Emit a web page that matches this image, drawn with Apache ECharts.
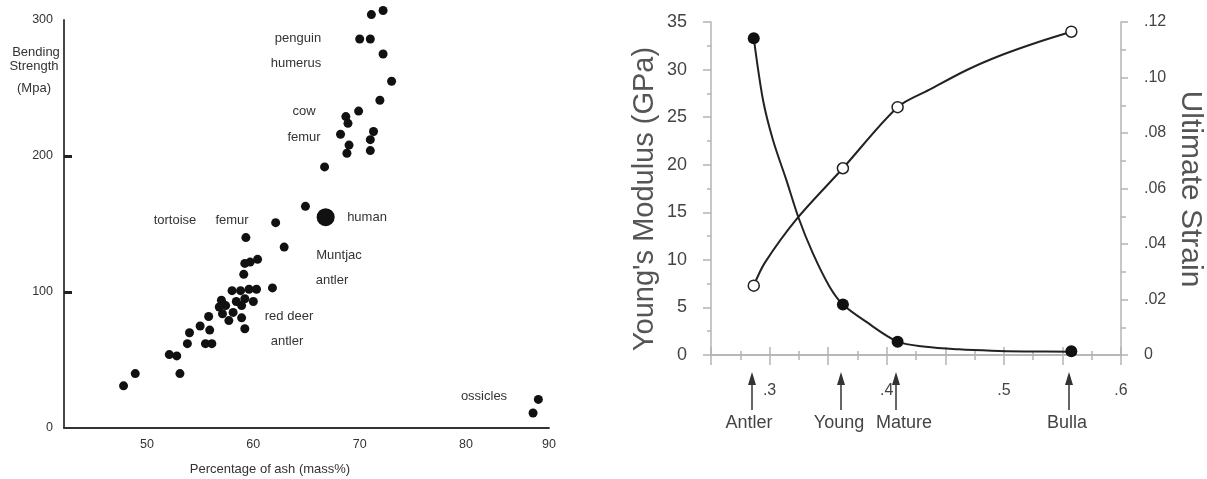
<!DOCTYPE html>
<html>
<head>
<meta charset="utf-8">
<script src="https://cdn.jsdelivr.net/npm/echarts@6/dist/echarts.min.js"></script>
<style>
  html, body { margin: 0; background: #fff; }
  #chart { width: 1207px; height: 479px; }
</style>
</head>
<body>
<div id="chart"></div>
<script>
// left panel: bending strength vs ash content
const ashPct = [72.2, 71.1, 70.0, 71.0, 72.2, 73.0, 71.9, 69.9, 68.7, 68.9, 68.2, 71.3, 71.0, 69.0, 68.8, 71.0,
  66.7, 64.9, 62.1, 59.3, 62.9, 60.4, 59.7, 59.2, 59.1, 61.8, 60.3, 59.6, 58.0, 58.8, 59.2, 60.0, 58.4, 57.0,
  57.4, 56.8, 58.9, 57.1, 58.1, 57.7, 58.9, 59.2, 55.8, 55.0, 55.9, 54.0, 53.8, 55.5, 56.1, 52.1, 52.8, 53.1,
  48.9, 47.8, 86.8, 86.3]
const bendStrength = [307, 304, 286, 286, 275, 255, 241, 233, 229, 224, 216, 218, 212, 208, 202, 204,
  192, 163, 151, 140, 133, 124, 122, 121, 113, 103, 102, 102, 101, 101, 95, 93, 93, 94,
  90, 89, 90, 84, 85, 79, 81, 73, 82, 75, 72, 70, 62, 62, 62, 54, 53, 40,
  40, 31, 21, 11]
const humanAsh = [66.8]
const humanStrength = [155]
const ashLabels = [50, 60, 70, 80, 87.8] // last label sits at the axis end and reads 90

// right panel: modulus / strain vs mineral fraction
const specimens = ['Antler', 'Young', 'Mature', 'Bulla']
const mineral = [0.2865, 0.3626, 0.4093, 0.5576]
const modulus = [33.3, 5.3, 1.4, 0.4]
const strain = [0.025, 0.0673, 0.0893, 0.1165]
// points
const modCurveX = [0.2865, 0.2944, 0.3029, 0.3143, 0.3248, 0.3369, 0.3511, 0.3626, 0.3823, 0.4093, 0.4333, 0.4616, 0.4896, 0.5182, 0.5576]
const modCurveY = [33.3, 26.8, 22.6, 18.4, 14.4, 10.7, 7.2, 5.3, 3.5, 1.4, 0.87, 0.6, 0.45, 0.38, 0.35]
const strainCurveX = [0.2865, 0.2959, 0.3239, 0.3626, 0.4093, 0.4361, 0.4684, 0.4981, 0.5295, 0.5576]
const strainCurveY = [0.025, 0.0332, 0.0494, 0.0673, 0.0893, 0.0955, 0.1027, 0.1081, 0.1128, 0.1165]

const FONT = 'Liberation Sans, Arial, sans-serif'
const zip = (a, b) => a.map((v, i) => [v, b[i]])
const grayLine = { color: '#b4b4b4', width: 1.5 }

const chart = echarts.init(document.getElementById('chart'))

chart.setOption({
  animation: false,
  textStyle: { fontFamily: FONT },
  grid: [
    { left: 64, top: 20, width: 485, height: 408 },
    { left: 711, top: 22, width: 410, height: 333 }
  ],
  xAxis: [
    {
      gridIndex: 0, type: 'value', min: 42.2, max: 87.8,
      axisLine: { lineStyle: { color: '#333', width: 1.8 } },
      axisTick: { show: false },
      splitLine: { show: false },
      axisLabel: {
        customValues: ashLabels, color: '#333', fontSize: 12.5, margin: 10,
        formatter: v => v > 85 ? '90' : String(v)
      }
    },
    {
      gridIndex: 1, type: 'value', min: 0.25, max: 0.6, interval: 0.05, position: 'bottom',
      axisLine: { lineStyle: grayLine },
      axisTick: { length: 10, lineStyle: grayLine },
      minorTick: { show: true, splitNumber: 2, length: 5, lineStyle: grayLine },
      splitLine: { show: false },
      axisLabel: {
        color: '#444', fontSize: 16, margin: 28, showMinLabel: true, showMaxLabel: true,
        formatter: v => { const h = Math.round(v * 1000); return h % 100 === 0 ? '.' + (h / 100) : '' }
      }
    },
    {
      gridIndex: 1, type: 'value', min: 0.25, max: 0.6, interval: 0.05, position: 'top',
      axisLine: { lineStyle: grayLine },
      axisTick: { length: 8, lineStyle: grayLine },
      minorTick: { show: true, splitNumber: 2, length: 4, lineStyle: grayLine },
      splitLine: { show: false },
      axisLabel: { show: false }
    }
  ],
  yAxis: [
    {
      gridIndex: 0, type: 'value', min: 0, max: 300, interval: 100,
      axisLine: { show: true, lineStyle: { color: '#333', width: 1.8 } },
      axisTick: { show: true, inside: true, length: 8, customValues: [100, 200], lineStyle: { color: '#222', width: 3 } },
      splitLine: { show: false },
      axisLabel: { color: '#333', fontSize: 12.5, margin: 11 }
    },
    {
      gridIndex: 1, type: 'value', min: 0, max: 35, interval: 5, position: 'left',
      axisLine: { show: true, lineStyle: grayLine },
      axisTick: { show: true, length: 8, lineStyle: grayLine },
      minorTick: { show: true, splitNumber: 2, length: 4, lineStyle: grayLine },
      splitLine: { show: false },
      axisLabel: { color: '#444', fontSize: 18, margin: 24 }
    },
    {
      gridIndex: 1, type: 'value', min: 0, max: 0.12, interval: 0.02, position: 'right',
      axisLine: { show: true, lineStyle: grayLine },
      axisTick: { show: true, length: 7, lineStyle: grayLine },
      minorTick: { show: true, splitNumber: 2, length: 5, lineStyle: grayLine },
      splitLine: { show: false },
      axisLabel: {
        color: '#444', fontSize: 16, margin: 23,
        formatter: v => v === 0 ? '0' : '.' + String(Math.round(v * 100)).padStart(2, '0')
      }
    }
  ],
  series: [
    {
      type: 'scatter', xAxisIndex: 0, yAxisIndex: 0, clip: false,
      symbolSize: 9, itemStyle: { color: '#111', opacity: 1 },
      data: zip(ashPct, bendStrength)
    },
    {
      type: 'scatter', xAxisIndex: 0, yAxisIndex: 0,
      symbolSize: 18, itemStyle: { color: '#111', opacity: 1 },
      data: zip(humanAsh, humanStrength)
    },
    {
      type: 'line', xAxisIndex: 1, yAxisIndex: 1, smooth: 0.3, symbol: 'none',
      lineStyle: { color: '#222', width: 2 },
      data: zip(modCurveX, modCurveY)
    },
    {
      type: 'line', xAxisIndex: 1, yAxisIndex: 2, smooth: 0.3, symbol: 'none',
      lineStyle: { color: '#222', width: 2 },
      data: zip(strainCurveX, strainCurveY)
    },
    {
      type: 'scatter', xAxisIndex: 1, yAxisIndex: 1, z: 5,
      symbolSize: 12, itemStyle: { color: '#111', opacity: 1 },
      data: zip(mineral, modulus)
    },
    {
      type: 'scatter', xAxisIndex: 1, yAxisIndex: 2, z: 5,
      symbolSize: 11, itemStyle: { color: '#fff', borderColor: '#222', borderWidth: 1.5, opacity: 1 },
      data: zip(mineral, strain)
    }
  ]
})

// annotations and titles
const txt = (text, x, y, size, color, extra) => ({
  type: 'text', x, y, ...extra,
  style: { text, fontSize: size, fontFamily: FONT, fill: color, align: 'center', verticalAlign: 'middle' }
})

const graphics = [
  txt('Bending', 36, 52, 13, '#333'),
  txt('Strength', 34, 66, 13, '#333'),
  txt('(Mpa)', 34, 88, 13, '#333'),
  txt('Percentage of ash (mass%)', 270, 469, 13, '#333'),
  txt('penguin', 298, 38, 13, '#333'),
  txt('humerus', 296, 63, 13, '#333'),
  txt('cow', 304, 111, 13, '#333'),
  txt('femur', 304, 137, 13, '#333'),
  txt('tortoise', 175, 220, 13, '#333'),
  txt('femur', 232, 220, 13, '#333'),
  txt('human', 367, 217, 13, '#333'),
  txt('Muntjac', 339, 255, 13, '#333'),
  txt('antler', 332, 280, 13, '#333'),
  txt('red deer', 289, 316, 13, '#333'),
  txt('antler', 287, 341, 13, '#333'),
  txt('ossicles', 484, 396, 13, '#333'),
  txt("Young's Modulus (GPa)", 645, 199, 29, '#555', { rotation: Math.PI / 2 }),
  txt('Ultimate Strain', 1190, 189, 30, '#555', { rotation: -Math.PI / 2 })
]

// specimen arrows below the axis; label nudges keep Young/Mature apart
const labelShift = [-3, -2, 8, -2]
specimens.forEach((name, i) => {
  const x = Math.round(chart.convertToPixel({ xAxisIndex: 1 }, mineral[i])) - 2
  graphics.push({
    type: 'line', shape: { x1: x, y1: 410, x2: x, y2: 380 },
    style: { stroke: '#333', lineWidth: 1.5 }
  })
  graphics.push({
    type: 'polygon', shape: { points: [[x, 372], [x - 4, 385], [x + 4, 385]] },
    style: { fill: '#333' }
  })
  graphics.push(txt(name, x + labelShift[i], 423, 18, '#444'))
})

chart.setOption({ graphic: graphics })
</script>
</body>
</html>
